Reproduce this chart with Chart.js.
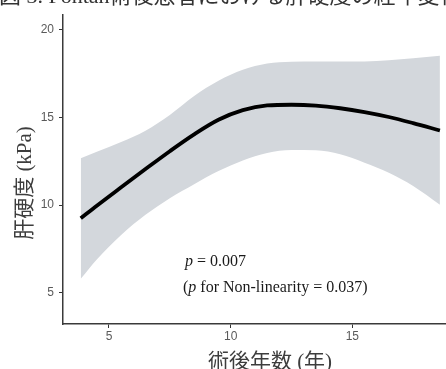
<!DOCTYPE html>
<html>
<head>
<meta charset="utf-8">
<script src="https://cdn.jsdelivr.net/npm/chart.js@4"></script>
<style>
  body { margin: 0; background: #fff; }
  #wrap { width: 446px; height: 369px; position: relative; }
</style>
</head>
<body>
<div id="wrap"><canvas id="chart"></canvas></div>
<script>
// years after surgery (x) and liver stiffness estimates (kPa)
const years = [3.84, 4.5, 5.5, 6.5, 7.5, 8.5, 9.5, 10.5, 11.5, 12.5, 13.5, 14.5, 15.5, 16.5, 17.5, 18.6];
const fitValues = [9.25, 9.97, 11.02, 12.06, 13.08, 14.04, 14.87, 15.42, 15.69, 15.73, 15.68, 15.53, 15.31, 15.03, 14.68, 14.26];
const upperCI = [12.67, 13.05, 13.6, 14.25, 15.15, 16.23, 17.1, 17.72, 18.08, 18.18, 18.19, 18.19, 18.2, 18.27, 18.38, 18.52];
const lowerCI = [5.8, 6.9, 8.3, 9.45, 10.4, 11.2, 11.95, 12.55, 12.98, 13.15, 13.13, 12.9, 12.42, 11.85, 11.1, 10.03];
const xTicks = [5, 10, 15];
const yTicks = [5, 10, 15, 20];

const figTitle = "図 3. Fontan術後患者における肝硬度の経年変化";
const xTitle = "術後年数 (年)";
const yTitle = "肝硬度 (kPa)";
const pText = "0.007";
const pNonLin = "0.037";

const toPts = (ys) => years.map((x, i) => ({ x: x, y: ys[i] }));

const textPlugin = {
  id: "texts",
  afterDraw(chart) {
    const ctx = chart.ctx;
    ctx.save();
    // cropped figure caption at the very top
    ctx.fillStyle = "#333";
    ctx.font = "22px 'Liberation Serif', 'Noto Sans CJK JP'";
    ctx.textAlign = "left";
    ctx.textBaseline = "alphabetic";
    ctx.fillText(figTitle, -1, 3);

    // axis titles
    ctx.fillStyle = "#3d3d3d";
    ctx.font = "21px 'Liberation Serif', 'Noto Sans CJK JP'";
    ctx.textAlign = "center";
    ctx.textBaseline = "middle";
    ctx.fillText(xTitle, 270, 362);
    ctx.save();
    ctx.translate(25, 183);
    ctx.rotate(-Math.PI / 2);
    ctx.fillText(yTitle, 0, 0);
    ctx.restore();

    // p-value annotation
    ctx.fillStyle = "#1a1a1a";
    ctx.textAlign = "left";
    const serif = "16px 'Liberation Serif'";
    const ital = "italic 16px 'Liberation Serif'";
    let x = 185;
    ctx.font = ital;
    ctx.fillText("p", x, 262);
    x += ctx.measureText("p").width;
    ctx.font = serif;
    ctx.fillText(" = " + pText, x, 262);

    x = 183;
    ctx.fillText("(", x, 288);
    x += ctx.measureText("(").width;
    ctx.font = ital;
    ctx.fillText("p", x, 288);
    x += ctx.measureText("p").width;
    ctx.font = serif;
    ctx.fillText(" for Non-linearity = " + pNonLin + ")", x, 288);
    ctx.restore();
  },
};

new Chart(document.getElementById("chart"), {
  type: "line",
  data: {
    datasets: [
      {
        label: "upper",
        data: toPts(upperCI),
        borderWidth: 0,
        pointRadius: 0,
        fill: "+1",
        backgroundColor: "#d3d7dc",
        tension: 0.4,
        cubicInterpolationMode: "monotone",
        order: 2,
      },
      {
        label: "lower",
        data: toPts(lowerCI),
        borderWidth: 0,
        pointRadius: 0,
        fill: false,
        tension: 0.4,
        cubicInterpolationMode: "monotone",
        order: 2,
      },
      {
        label: "fit",
        data: toPts(fitValues),
        borderColor: "#000",
        borderWidth: 3.8,
        pointRadius: 0,
        fill: false,
        tension: 0.4,
        cubicInterpolationMode: "monotone",
        order: 1,
      },
    ],
  },
  options: {
    responsive: true,
    maintainAspectRatio: false,
    animation: false,
    layout: { padding: { top: 15, right: 0, left: 0, bottom: 0 } },
    plugins: {
      legend: { display: false },
      tooltip: { enabled: false },
    },
    scales: {
      x: {
        type: "linear",
        min: 3.11,
        max: 18.85,
        afterFit: (s) => { s.height = 45; },
        afterBuildTicks: (s) => { s.ticks = xTicks.map((v) => ({ value: v })); },
        grid: { drawOnChartArea: false, tickLength: 4, tickColor: "#333", tickWidth: 1 },
        border: { display: true, color: "#3a3a3a", width: 1.5 },
        ticks: { color: "#5a5a5a", font: { family: "'Liberation Sans'", size: 12 }, padding: 1, maxRotation: 0 },
      },
      y: {
        type: "linear",
        min: 3.22,
        max: 20.85,
        afterFit: (s) => { s.width = 63; },
        afterBuildTicks: (s) => { s.ticks = yTicks.map((v) => ({ value: v })); },
        grid: { drawOnChartArea: false, tickLength: 4, tickColor: "#333", tickWidth: 1 },
        border: { display: true, color: "#3a3a3a", width: 1.5 },
        ticks: { color: "#5a5a5a", font: { family: "'Liberation Sans'", size: 12 }, padding: 5 },
      },
    },
  },
  plugins: [textPlugin],
});
</script>
</body>
</html>
